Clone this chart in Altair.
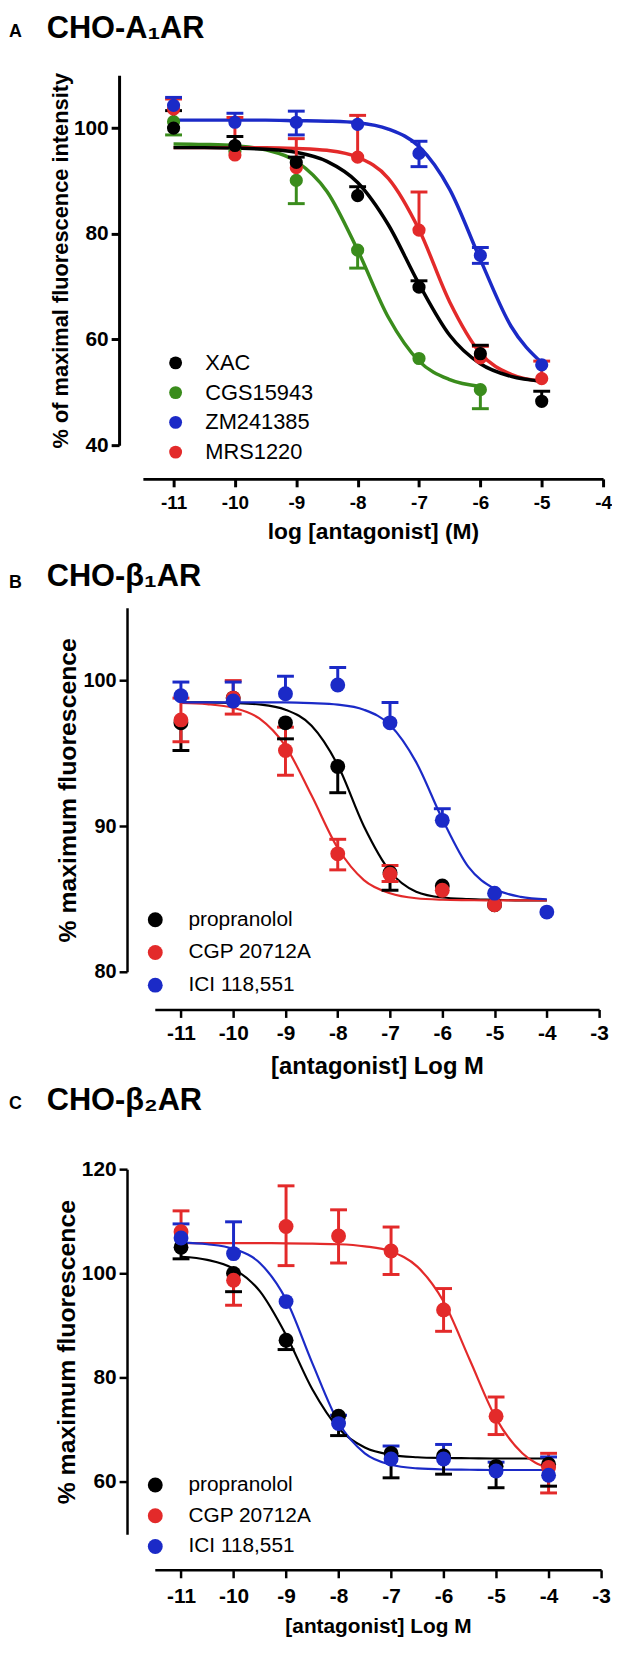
import altair as alt
import pandas as pd

FONT = "Liberation Sans"

# ---------------- Panel A : CHO-A1AR ----------------
A_LETTER = "A"
A_TITLE = "CHO-A\u2081AR"
A_SERIES = ["XAC", "CGS15943", "ZM241385", "MRS1220"]
A_COLORS = ["#000000", "#3a8c1c", "#1b2ac7", "#e32a2a"]
A_DRAW = ["CGS15943", "MRS1220", "ZM241385", "XAC"]
A_X7 = [-11, -10, -9, -8, -7, -6, -5]
A_X6 = [-11, -10, -9, -8, -7, -6]
A_XAC_MEAN = [100.0, 96.7, 93.5, 87.2, 69.9, 57.3, 48.3]
A_XAC_LO = [100.0, 96.7, 93.5, 87.2, 69.9, 57.3, 48.3]
A_XAC_HI = [103.3, 98.4, 94.5, 88.9, 71.1, 58.9, 50.2]
A_CGS_MEAN = [101.2, 95.6, 90.1, 76.9, 56.4, 50.5]
A_CGS_LO = [98.7, 95.6, 85.7, 73.5, 56.4, 46.9]
A_CGS_HI = [101.2, 95.6, 90.1, 76.9, 56.4, 50.5]
A_ZM_MEAN = [104.3, 101.1, 101.1, 100.7, 95.2, 75.9, 55.2]
A_ZM_LO = [104.3, 101.1, 98.7, 100.7, 92.7, 74.4, 55.2]
A_ZM_HI = [105.8, 102.8, 103.2, 100.7, 97.5, 77.4, 55.2]
A_MRS_MEAN = [103.6, 94.9, 92.5, 94.5, 80.7, 56.5, 52.6]
A_MRS_LO = [103.6, 94.9, 92.5, 94.5, 80.7, 56.5, 52.6]
A_MRS_HI = [105.5, 102.0, 98.0, 102.4, 87.9, 58.7, 55.9]
A_CX13 = [-11, -10.5, -10, -9.5, -9, -8.5, -8, -7.5, -7, -6.5, -6, -5.5, -5]
A_CX11 = [-11, -10.5, -10, -9.5, -9, -8.5, -8, -7.5, -7, -6.5, -6]
A_XAC_FIT = [96.3, 96.3, 96.2, 96.0, 95.4, 93.7, 89.7, 81.7, 70.5, 60.8, 55.4, 53.0, 52.1]
A_CGS_FIT = [97.0, 96.9, 96.65, 95.9, 93.7, 88.0, 76.9, 64.2, 55.9, 52.4, 51.1]
A_ZM_FIT = [101.5, 101.5, 101.5, 101.5, 101.4, 101.3, 101.0, 99.8, 96.5, 88.4, 75.1, 62.5, 55.6]
A_MRS_FIT = [96.3, 96.3, 96.3, 96.3, 96.15, 95.8, 94.5, 90.5, 80.8, 67.1, 57.4, 53.4, 52.1]
A_XTICKS = [-11, -10, -9, -8, -7, -6, -5, -4]
A_YTICKS = [40, 60, 80, 100]

# ---------------- Panel B : CHO-b1AR ----------------
B_LETTER = "B"
B_TITLE = "CHO-\u03b2\u2081AR"
B_SERIES = ["propranolol", "CGP 20712A", "ICI 118,551"]
B_COLORS = ["#000000", "#e32a2a", "#1b2ac7"]
B_DRAW = ["propranolol", "CGP 20712A", "ICI 118,551"]
B_X7 = [-11, -10, -9, -8, -7, -6, -5]
B_X8 = [-11, -10, -9, -8, -7, -6, -5, -4]
B_PRO_MEAN = [97.1, 98.8, 97.1, 94.1, 86.8, 85.9, 84.6]
B_PRO_LO = [95.2, 98.8, 96.0, 92.3, 85.6, 85.9, 84.6]
B_PRO_HI = [97.1, 98.8, 97.1, 94.1, 86.8, 85.9, 84.6]
B_CGP_MEAN = [97.3, 98.8, 95.2, 88.1, 86.7, 85.6, 84.6]
B_CGP_LO = [95.8, 97.7, 93.5, 87.0, 86.2, 85.6, 84.6]
B_CGP_HI = [98.8, 100.0, 96.8, 89.1, 87.3, 85.6, 84.6]
B_ICI_MEAN = [98.96, 98.6, 99.1, 99.7, 97.1, 90.4, 85.4, 84.1]
B_ICI_LO = [98.96, 98.6, 99.1, 99.7, 97.1, 90.4, 85.4, 84.1]
B_ICI_HI = [99.9, 99.9, 100.3, 100.9, 98.5, 91.2, 85.4, 84.1]
B_CX = [-11, -10.5, -10, -9.5, -9, -8.5, -8, -7.5, -7, -6.5, -6, -5.5, -5, -4.5, -4]
B_PRO_FIT = [98.5, 98.5, 98.46, 98.36, 98.0, 96.9, 94.2, 90.0, 86.9, 85.5, 85.1, 85.0, 84.95, 84.9, 84.9]
B_CGP_FIT = [98.46, 98.38, 98.13, 97.4, 95.5, 92.1, 88.5, 86.3, 85.4, 85.05, 84.95, 84.92, 84.9, 84.9, 84.9]
B_ICI_FIT = [98.5, 98.5, 98.5, 98.5, 98.5, 98.45, 98.35, 98.0, 96.95, 94.4, 90.5, 87.2, 85.7, 85.15, 84.98]
B_XTICKS = [-11, -10, -9, -8, -7, -6, -5, -4, -3]
B_YTICKS = [80, 90, 100]

# ---------------- Panel C : CHO-b2AR ----------------
C_LETTER = "C"
C_TITLE = "CHO-\u03b2\u2082AR"
C_SERIES = ["propranolol", "CGP 20712A", "ICI 118,551"]
C_COLORS = ["#000000", "#e32a2a", "#1b2ac7"]
C_DRAW = ["propranolol", "CGP 20712A", "ICI 118,551"]
C_X8 = [-11, -10, -9, -8, -7, -6, -5, -4]
C_PRO_MEAN = [105.0, 100.0, 87.2, 72.6, 65.5, 65.0, 63.0, 63.4]
C_PRO_LO = [102.8, 96.5, 85.4, 68.9, 60.8, 61.5, 58.9, 59.2]
C_PRO_HI = [105.0, 100.0, 87.2, 72.6, 65.5, 65.0, 63.0, 63.4]
C_CGP_MEAN = [108.0, 98.7, 109.0, 107.2, 104.3, 93.0, 72.6, 62.8]
C_CGP_LO = [108.0, 93.9, 101.5, 102.0, 99.8, 88.9, 69.1, 57.9]
C_CGP_HI = [112.0, 98.7, 116.8, 112.2, 108.9, 97.1, 76.3, 65.5]
C_ICI_MEAN = [106.8, 103.8, 94.6, 71.2, 64.4, 64.4, 62.1, 61.3]
C_ICI_LO = [106.8, 103.8, 94.6, 71.2, 64.4, 64.4, 62.1, 61.3]
C_ICI_HI = [109.5, 109.9, 94.6, 72.8, 66.9, 67.2, 63.8, 64.8]
C_CX = [-11, -10.5, -10, -9.5, -9, -8.5, -8, -7.5, -7, -6.5, -6, -5.5, -5, -4.5, -4]
C_PRO_FIT = [103.2, 102.6, 100.9, 96.6, 88.2, 77.8, 70.3, 66.6, 65.2, 64.75, 64.6, 64.55, 64.5, 64.5, 64.5]
C_CGP_FIT = [105.8, 105.8, 105.8, 105.8, 105.78, 105.7, 105.6, 105.2, 104.2, 101.3, 94.6, 83.4, 72.2, 65.5, 62.6]
C_ICI_FIT = [105.9, 105.6, 104.7, 102.0, 95.0, 82.8, 71.4, 65.5, 63.3, 62.6, 62.4, 62.35, 62.3, 62.3, 62.3]
C_XTICKS = [-11, -10, -9, -8, -7, -6, -5, -4, -3]
C_YTICKS = [60, 80, 100, 120]


def make_points(series, colors, draw, xs, means, los, his):
    rows = []
    for name in draw:
        i = series.index(name)
        for x, m, lo, hi in zip(xs[i], means[i], los[i], his[i]):
            rows.append({"series": name, "col": colors[i], "x": x, "mean": m, "lo": lo, "hi": hi})
    return pd.DataFrame(rows)


def make_caps(pts):
    rows = []
    for r in pts.itertuples():
        if r.lo < r.mean:
            rows.append({"series": r.series, "col": r.col, "x": r.x, "c": r.lo})
        if r.hi > r.mean:
            rows.append({"series": r.series, "col": r.col, "x": r.x, "c": r.hi})
    return pd.DataFrame(rows)


def make_curves(series, colors, draw, xs, fits):
    rows = []
    for name in draw:
        i = series.index(name)
        for k, (x, y) in enumerate(zip(xs[i], fits[i])):
            rows.append({"series": name, "col": colors[i], "x": x, "y": y, "k": k})
    return pd.DataFrame(rows)


def panel(p):
    pts = make_points(p["series"], p["colors"], p["draw"], p["xs"], p["means"], p["los"], p["his"])
    caps = make_caps(pts)
    curves = make_curves(p["series"], p["colors"], p["draw"], p["cxs"], p["fits"])

    xaxis = alt.Axis(
        values=p["xticks"], title=p["xtitle"], offset=p["xoff"], grid=False,
        domainColor="black", domainWidth=p["aw"], tickColor="black", tickWidth=p["aw"],
        tickSize=8, labelFont=FONT, labelFontSize=p["xlfs"], labelFontWeight="bold",
        labelColor="black", labelPadding=p["xlp"], labelExpr="'' + datum.value",
        labelFlush=False, labelOverlap=False,
        titleFont=FONT, titleFontSize=p["xtfs"], titleFontWeight="bold",
        titleColor="black", titlePadding=p["xtp"])
    yaxis = alt.Axis(
        values=p["yticks"], title=p["ytitle"], offset=p["yoff"], grid=False,
        domainColor="black", domainWidth=p["aw"], tickColor="black", tickWidth=p["aw"],
        tickSize=8, labelFont=FONT, labelFontSize=p["ylfs"], labelFontWeight="bold",
        labelColor="black", labelPadding=3, labelFlush=False, labelOverlap=False,
        titleFont=FONT, titleFontSize=p["ytfs"], titleFontWeight="bold",
        titleColor="black", titlePadding=p["ytp"])
    xs = alt.Scale(domain=p["xdom"], range=p["xrange"], nice=False, zero=False)
    ys = alt.Scale(domain=p["ydom"], range=p["yrange"], nice=False, zero=False)
    cscale = alt.Scale(domain=p["series"], range=p["colors"])

    def X(f):
        return alt.X(f + ":Q", scale=xs, axis=xaxis)

    def Y(f):
        return alt.Y(f + ":Q", scale=ys, axis=yaxis)

    lines = alt.Chart(curves).mark_line(interpolate="monotone", strokeWidth=p["lw"]).encode(
        x=X("x"), y=Y("y"), order="k:Q",
        stroke=alt.Stroke("col:N", scale=None))
    bars = alt.Chart(pts).mark_rule(strokeWidth=3).encode(
        x=X("x"), y=Y("lo"), y2="hi:Q",
        stroke=alt.Stroke("col:N", scale=None))
    capm = alt.Chart(caps).mark_tick(orient="horizontal", size=17, thickness=3, opacity=1).encode(
        x=X("x"), y=Y("c"),
        fill=alt.Fill("col:N", scale=None))
    dots = alt.Chart(pts).mark_circle(size=p["ps"], opacity=1).encode(
        x=X("x"), y=Y("mean"),
        color=alt.Color("series:N", scale=cscale, legend=alt.Legend(
            orient="none", legendX=p["lx"], legendY=p["ly"], title=None,
            labelFont=FONT, labelFontSize=p["lfs"], labelColor="black",
            symbolType="circle", symbolSize=p["lss"], symbolStrokeWidth=0,
            symbolOpacity=1, rowPadding=p["lrp"], labelOffset=p["lof"], padding=0)))
    one = pd.DataFrame({"t": [0]})
    letter = alt.Chart(one).mark_text(
        text=p["letter"], font=FONT, fontSize=18, fontWeight="bold", align="left",
        baseline="alphabetic", color="black").encode(x=alt.value(-135), y=alt.value(p["lety"]))
    title = alt.Chart(one).mark_text(
        text=p["title"], font=FONT, fontSize=31, fontWeight="bold", align="left",
        baseline="alphabetic", color="black").encode(x=alt.value(-97), y=alt.value(p["tity"]))
    return alt.layer(lines, bars, capm, dots, letter, title).properties(width=464, height=p["h"])


pA = panel(dict(
    series=A_SERIES, colors=A_COLORS, draw=A_DRAW,
    xs=[A_X7, A_X6, A_X7, A_X7],
    means=[A_XAC_MEAN, A_CGS_MEAN, A_ZM_MEAN, A_MRS_MEAN],
    los=[A_XAC_LO, A_CGS_LO, A_ZM_LO, A_MRS_LO],
    his=[A_XAC_HI, A_CGS_HI, A_ZM_HI, A_MRS_HI],
    cxs=[A_CX13, A_CX11, A_CX13, A_CX13],
    fits=[A_XAC_FIT, A_CGS_FIT, A_ZM_FIT, A_MRS_FIT],
    xticks=A_XTICKS, yticks=A_YTICKS, xdom=[-11.5, -4], xrange=[0, 464],
    ydom=[40, 110], yrange=[373, 0], h=373, xoff=34, yoff=24, aw=3,
    xtitle="log [antagonist] (M)", ytitle="% of maximal fluorescence intensity",
    xlfs=19, ylfs=21, xlp=7, xtfs=23, xtp=8, ytfs=22, ytp=1, lw=3.5, ps=177,
    lx=22, ly=279, lfs=22, lss=169, lrp=8, lof=19,
    letter=A_LETTER, title=A_TITLE, lety=-39, tity=-38))

pB = panel(dict(
    series=B_SERIES, colors=B_COLORS, draw=B_DRAW,
    xs=[B_X7, B_X7, B_X8],
    means=[B_PRO_MEAN, B_CGP_MEAN, B_ICI_MEAN],
    los=[B_PRO_LO, B_CGP_LO, B_ICI_LO],
    his=[B_PRO_HI, B_CGP_HI, B_ICI_HI],
    cxs=[B_CX, B_CX, B_CX],
    fits=[B_PRO_FIT, B_CGP_FIT, B_ICI_FIT],
    xticks=B_XTICKS, yticks=B_YTICKS, xdom=[-11.5, -3], xrange=[12, 460],
    ydom=[80, 105], yrange=[367, 0], h=402, xoff=3, yoff=16, aw=2.5,
    xtitle="[antagonist] Log M", ytitle="% maximum fluorescence",
    xlfs=21, ylfs=20, xlp=5, xtfs=24, xtp=12, ytfs=25, ytp=3, lw=2.2, ps=225,
    lx=2, ly=304, lfs=21, lss=225, lrp=11, lof=23,
    letter=B_LETTER, title=B_TITLE, lety=-20, tity=-22))

pC = panel(dict(
    series=C_SERIES, colors=C_COLORS, draw=C_DRAW,
    xs=[C_X8, C_X8, C_X8],
    means=[C_PRO_MEAN, C_CGP_MEAN, C_ICI_MEAN],
    los=[C_PRO_LO, C_CGP_LO, C_ICI_LO],
    his=[C_PRO_HI, C_CGP_HI, C_ICI_HI],
    cxs=[C_CX, C_CX, C_CX],
    fits=[C_PRO_FIT, C_CGP_FIT, C_ICI_FIT],
    xticks=C_XTICKS, yticks=C_YTICKS, xdom=[-11.5, -3], xrange=[12, 462],
    ydom=[50, 120], yrange=[368, 0], h=368, xoff=36, yoff=16, aw=2.5,
    xtitle="[antagonist] Log M", ytitle="% maximum fluorescence",
    xlfs=21, ylfs=21, xlp=8, xtfs=21, xtp=9, ytfs=25, ytp=2, lw=2.2, ps=225,
    lx=2, ly=308, lfs=21, lss=225, lrp=9, lof=23,
    letter=C_LETTER, title=C_TITLE, lety=-61, tity=-60))

chart = alt.vconcat(pA, pB, pC, spacing=164, bounds="flush").resolve_scale(
    color="independent"
).resolve_legend(color="independent").properties(
    padding={"left": 1, "top": -2, "right": 0, "bottom": 0}
).configure_view(stroke=None)

chart.save("out.html", embed_options={"renderer": "svg", "actions": False})
